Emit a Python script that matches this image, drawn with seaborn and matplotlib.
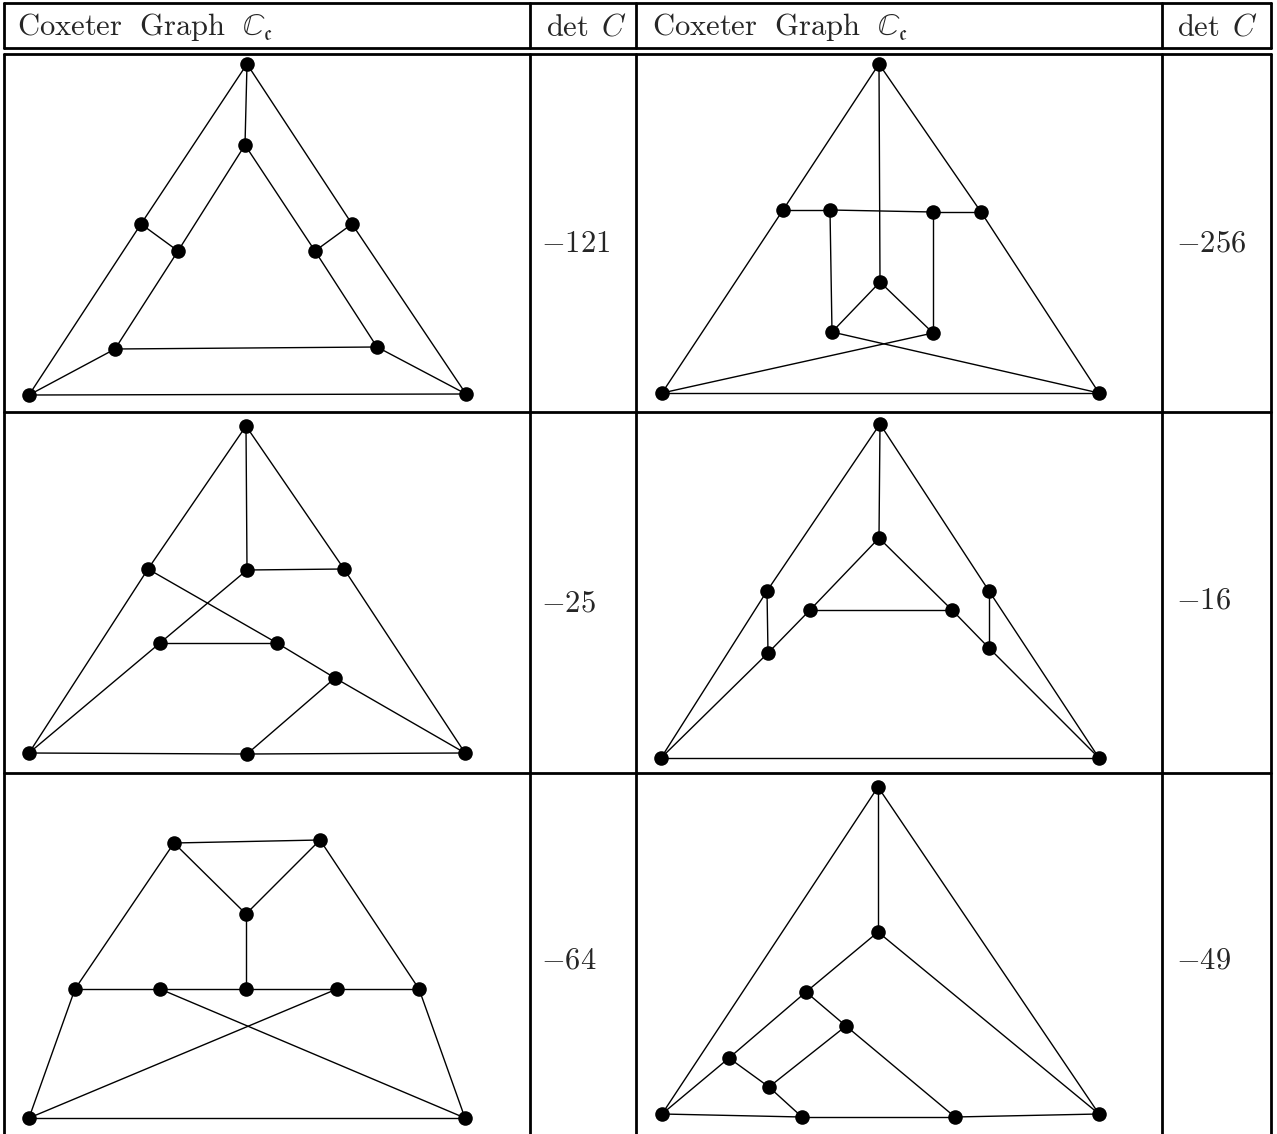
import numpy as np
import pandas as pd
import seaborn as sns
import matplotlib.pyplot as plt
from matplotlib.collections import LineCollection

# node coordinates (pixel space of the table) and edge lists, one graph per cell
g1_x = [247, 245, 141, 178, 352, 315, 115, 377, 29, 466]
g1_y = [64, 145, 224, 251, 224, 251, 349, 347, 395, 394]
g1_edges = [(0, 1), (0, 2), (0, 4), (1, 3), (1, 5), (2, 3), (2, 8), (3, 6),
            (4, 5), (4, 9), (5, 7), (6, 7), (6, 8), (7, 9), (8, 9)]

g2_x = [879, 783, 830, 933, 981, 880, 832, 933, 662, 1099]
g2_y = [64, 210, 210, 212, 212, 282, 332, 333, 393, 393]
g2_edges = [(0, 1), (0, 4), (0, 5), (1, 2), (1, 8), (2, 3), (2, 6), (3, 4),
            (3, 7), (4, 9), (5, 6), (5, 7), (6, 9), (7, 8), (8, 9)]

g3_x = [246, 148, 247, 344, 160, 277, 335, 29, 247, 465]
g3_y = [426, 569, 570, 569, 643, 643, 678, 753, 754, 753]
g3_edges = [(0, 1), (0, 2), (0, 3), (1, 5), (1, 7), (2, 3), (2, 4), (3, 9),
            (4, 5), (4, 7), (5, 6), (6, 8), (6, 9), (7, 8), (8, 9)]

g4_x = [880, 879, 767, 989, 810, 952, 768, 989, 661, 1099]
g4_y = [424, 538, 591, 591, 610, 610, 653, 648, 758, 758]
g4_edges = [(0, 1), (0, 2), (0, 3), (1, 4), (1, 5), (2, 6), (2, 8), (3, 7),
            (3, 9), (4, 5), (4, 6), (5, 7), (6, 8), (7, 9), (8, 9)]

g5_x = [174, 320, 246, 75, 160, 246, 337, 419, 29, 465]
g5_y = [843, 840, 914, 989, 989, 989, 989, 989, 1118, 1118]
g5_edges = [(0, 1), (0, 2), (0, 3), (1, 2), (1, 7), (2, 5), (3, 4), (3, 8),
            (4, 5), (4, 9), (5, 6), (6, 7), (6, 8), (7, 9), (8, 9)]

g6_x = [878, 878, 806, 846, 729, 769, 662, 802, 955, 1099]
g6_y = [787, 932, 992, 1026, 1058, 1087, 1114, 1117, 1117, 1114]
g6_edges = [(0, 1), (0, 6), (0, 9), (1, 2), (1, 9), (2, 3), (2, 4), (3, 5),
            (3, 8), (4, 5), (4, 6), (5, 7), (6, 7), (7, 8), (8, 9)]

det_values = [-121, -256, -25, -16, -64, -49]
header_graph = r"$\mathrm{Coxeter\ \ Graph}\ \ \mathbb{C}_{\mathfrak{c}}$"
header_det = r"$\det\ C$"

graphs = [(g1_x, g1_y, g1_edges), (g2_x, g2_y, g2_edges), (g3_x, g3_y, g3_edges),
          (g4_x, g4_y, g4_edges), (g5_x, g5_y, g5_edges), (g6_x, g6_y, g6_edges)]

sns.set_theme(style="white")
plt.rcParams["mathtext.fontset"] = "cm"
plt.rcParams["font.family"] = ["DejaVu Serif"]

W, H = 1277, 1134
fig = plt.figure(figsize=(W / 100, H / 100), dpi=100)
ax = fig.add_axes([0, 0, 1, 1])

# table layout
col_x = [4, 530, 636, 1162, 1271]
row_y = [412, 773]
top, head_bot, head_bot2 = 3, 48, 54
tlw = 2.0
ax.plot([col_x[0], col_x[-1]], [top, top], color="black", lw=tlw)
ax.plot([col_x[0], col_x[-1]], [head_bot, head_bot], color="black", lw=tlw)
ax.plot([col_x[0], col_x[-1]], [head_bot2, head_bot2], color="black", lw=tlw)
for y in row_y:
    ax.plot([col_x[0], col_x[-1]], [y, y], color="black", lw=tlw)
for x in col_x:
    ax.plot([x, x], [top, head_bot], color="black", lw=tlw)
    ax.plot([x, x], [head_bot2, H], color="black", lw=tlw)

# header
fs = 22
ax.text(17, 27, header_graph, fontsize=fs, ha="left", va="center")
ax.text(652, 27, header_graph, fontsize=fs, ha="left", va="center")
ax.text(546, 27, header_det, fontsize=fs, ha="left", va="center")
ax.text(1177, 27, header_det, fontsize=fs, ha="left", va="center")

# determinant values
det_pos = [(541, 243), (1176, 243), (541, 603), (1176, 600), (541, 960), (1176, 960)]
for (x, y), v in zip(det_pos, det_values):
    ax.text(x, y, rf"$-{abs(v)}$", fontsize=fs, ha="left", va="center")

# edges
segs = []
for gx, gy, edges in graphs:
    for a, b in edges:
        segs.append([(gx[a], gy[a]), (gx[b], gy[b])])
ax.add_collection(LineCollection(segs, colors="black", linewidths=1.0, zorder=2))

# nodes
nodes = pd.concat([pd.DataFrame({"x": gx, "y": gy, "graph": i})
                   for i, (gx, gy, _) in enumerate(graphs)], ignore_index=True)
sns.scatterplot(data=nodes, x="x", y="y", color="black", s=110, linewidth=0,
                legend=False, ax=ax, zorder=3)
ax.set_xlim(0, W)
ax.set_ylim(H, 0)
ax.axis("off")

fig.savefig("out.png", dpi=100)
